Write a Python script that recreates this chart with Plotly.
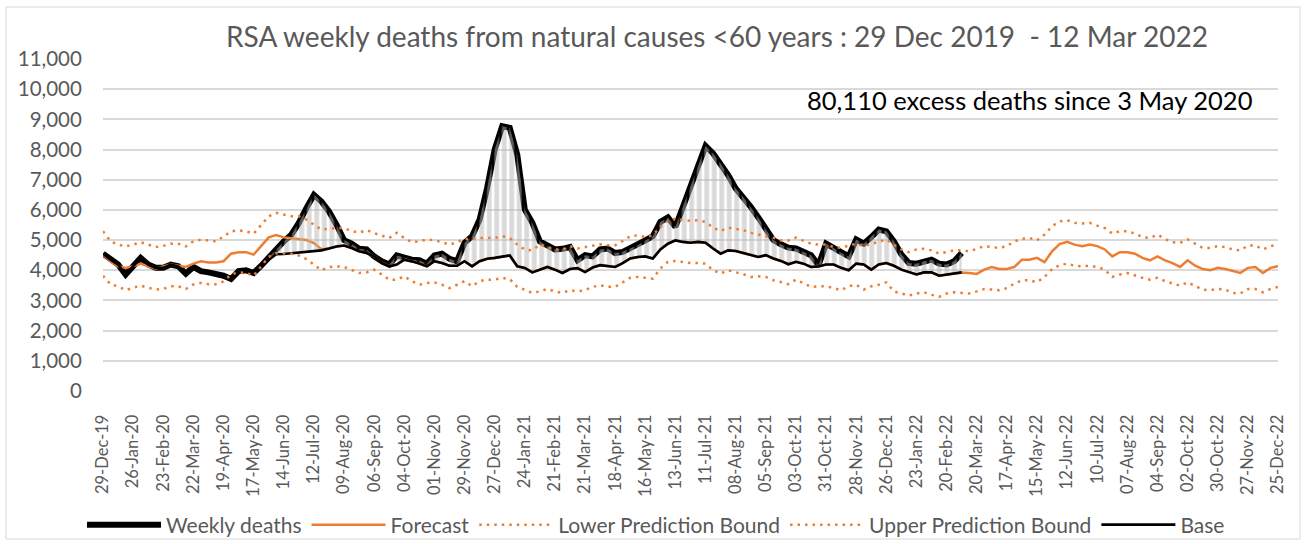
import pandas as pd
import plotly.graph_objects as go

start_date = "2019-12-29"
n_weeks = 157
weeks = pd.date_range(start_date, periods=n_weeks, freq="7D")
tick_dates = weeks[::4]
tick_labels = [d.strftime("%d-%b-%y") for d in tick_dates]

weekly_deaths = [
    4550, 4350, 4190, 3860, 4130, 4410, 4190, 4080, 4080, 4190,
    4130, 3890, 4110, 3970, 3930, 3890, 3820, 3710, 3970, 4000,
    3910, 4150, 4440, 4680, 4960, 5180, 5570, 6060, 6500, 6280,
    5950, 5510, 5000, 4880, 4710, 4690, 4460, 4300, 4190, 4490,
    4410, 4350, 4330, 4220, 4490, 4550, 4380, 4300, 4910, 5130,
    5680, 6730, 8000, 8770, 8720, 7830, 6010, 5570, 4960, 4800,
    4690, 4710, 4770, 4330, 4500, 4460, 4690, 4720, 4570, 4610,
    4720, 4830, 4990, 5130, 5600, 5750, 5440, 6100, 6760, 7480,
    8120, 7870, 7540, 7150, 6710, 6430, 6100, 5750, 5350, 5000,
    4860, 4750, 4720, 4610, 4500, 4170, 4880, 4740, 4570, 4460,
    5020, 4880, 5100, 5350, 5290, 4960, 4520, 4240, 4220, 4300,
    4350, 4220, 4190, 4300, 4570,
]

base = [
    4550, 4350, 4190, 3860, 4130, 4410, 4190, 4080, 4080, 4190,
    4130, 3890, 4110, 3970, 3930, 3890, 3820, 3710, 3970, 4000,
    3910, 4110, 4350, 4530, 4540, 4560, 4580, 4600, 4630, 4660,
    4720, 4790, 4820, 4740, 4630, 4570, 4460, 4240, 4130, 4190,
    4350, 4300, 4220, 4130, 4300, 4240, 4150, 4150, 4300, 4130,
    4300, 4380, 4410, 4460, 4490, 4130, 4080, 3930, 4020, 4110,
    4020, 3910, 4040, 4070, 3940, 4090, 4170, 4130, 4110, 4240,
    4390, 4440, 4460, 4390, 4690, 4880, 4990, 4940, 4910, 4940,
    4910, 4720, 4550, 4660, 4640, 4570, 4500, 4440, 4500, 4390,
    4310, 4200, 4280, 4220, 4110, 4130, 4190, 4190, 4080, 4000,
    4220, 4190, 4020, 4190, 4240, 4150, 4020, 3930, 3860, 3930,
    3930, 3820, 3860, 3910, 3930,
]

forecast = [
    4520, 4300, 4130, 4080, 4130, 4220, 4130, 4050, 4130, 4190,
    4150, 4110, 4220, 4300, 4260, 4260, 4300, 4550, 4600, 4600,
    4520, 4810, 5090, 5170, 5090, 5060, 5040, 5000, 4900, 4700,
    4720, 4790, 4820, 4740, 4630, 4570, 4460, 4240, 4130, 4190,
    4350, 4300, 4220, 4130, 4300, 4240, 4150, 4150, 4300, 4130,
    4300, 4380, 4410, 4460, 4490, 4130, 4080, 3930, 4020, 4110,
    4020, 3910, 4040, 4070, 3940, 4090, 4170, 4130, 4110, 4240,
    4390, 4440, 4460, 4390, 4690, 4880, 4990, 4940, 4910, 4940,
    4910, 4720, 4550, 4660, 4640, 4570, 4500, 4440, 4500, 4390,
    4310, 4200, 4280, 4220, 4110, 4130, 4190, 4190, 4080, 4000,
    4220, 4190, 4020, 4190, 4240, 4150, 4020, 3930, 3860, 3930,
    3930, 3820, 3860, 3910, 3930, 3910, 3880, 4020, 4110, 4040,
    4040, 4110, 4350, 4350, 4410, 4270, 4630, 4870, 4940, 4850,
    4800, 4850, 4800, 4690, 4460, 4600, 4600, 4550, 4410, 4330,
    4460, 4330, 4240, 4110, 4330, 4150, 4040, 4000, 4080, 4040,
    3970, 3910, 4080, 4110, 3910, 4080, 4130,
]

lower_bound = [
    3820, 3530, 3470, 3340, 3420, 3490, 3420, 3360, 3380, 3470,
    3470, 3380, 3530, 3580, 3540, 3540, 3630, 3860, 3930, 3910,
    3820, 4130, 4440, 4570, 4570, 4550, 4490, 4370, 4190, 4000,
    4110, 4130, 4110, 4000, 3910, 3930, 4020, 3860, 3690, 3690,
    3800, 3640, 3520, 3580, 3600, 3520, 3410, 3520, 3640, 3470,
    3640, 3690, 3690, 3750, 3710, 3450, 3360, 3250, 3300, 3380,
    3300, 3250, 3340, 3300, 3340, 3450, 3500, 3450, 3450, 3610,
    3750, 3780, 3760, 3720, 4060, 4280, 4310, 4280, 4240, 4240,
    4220, 4000, 3890, 4000, 3940, 3870, 3780, 3800, 3780, 3670,
    3610, 3540, 3690, 3560, 3450, 3470, 3470, 3410, 3340, 3470,
    3520, 3360, 3470, 3520, 3600, 3300, 3230, 3160, 3230, 3270,
    3190, 3120, 3230, 3270, 3250, 3230, 3300, 3380, 3360, 3340,
    3410, 3560, 3670, 3670, 3600, 3780, 4040, 4170, 4220, 4150,
    4130, 4150, 4110, 4020, 3780, 3860, 3910, 3820, 3750, 3690,
    3750, 3640, 3560, 3490, 3600, 3470, 3360, 3340, 3380, 3360,
    3250, 3230, 3380, 3380, 3270, 3380, 3450,
]

upper_bound = [
    5290, 4960, 4850, 4790, 4850, 4930, 4850, 4770, 4810, 4880,
    4880, 4790, 4960, 5010, 4990, 4960, 5120, 5290, 5320, 5290,
    5210, 5510, 5790, 5900, 5840, 5790, 5790, 5680, 5510, 5350,
    5370, 5400, 5400, 5300, 5250, 5330, 5230, 5150, 5070, 5240,
    5070, 4930, 4960, 5020, 4990, 4930, 4850, 4930, 5040, 5040,
    5070, 5070, 5070, 5130, 5070, 4850, 4690, 4660, 4850, 4770,
    4690, 4690, 4800, 4720, 4770, 4830, 4860, 4830, 4830, 4970,
    5130, 5160, 5100, 5160, 5440, 5640, 5710, 5660, 5640, 5660,
    5600, 5410, 5300, 5410, 5380, 5330, 5240, 5190, 5130, 5080,
    4990, 4990, 5080, 4990, 4880, 4850, 4850, 4770, 4740, 4820,
    4880, 4800, 4880, 4960, 5020, 4850, 4690, 4600, 4690, 4710,
    4660, 4550, 4600, 4660, 4660, 4630, 4710, 4800, 4770, 4740,
    4800, 4960, 5040, 5070, 4990, 5180, 5460, 5620, 5660, 5570,
    5550, 5570, 5480, 5400, 5220, 5290, 5290, 5220, 5100, 5070,
    5180, 5040, 4930, 4910, 5020, 4880, 4740, 4740, 4800, 4770,
    4690, 4660, 4820, 4820, 4690, 4800, 4850,
]

title_text = "RSA weekly deaths from natural causes <60 years : 29 Dec 2019  - 12 Mar 2022"
note_text = "80,110 excess deaths since 3 May 2020"

ORANGE = "#ED7D31"
GREY_TXT = "#595959"
FONT = "Lato"

n_obs = len(weekly_deaths)
x_obs = weeks[:n_obs]

fig = go.Figure()

fig.add_trace(go.Scatter(
    x=x_obs, y=weekly_deaths, name="Weekly deaths", mode="lines",
    line=dict(color="black", width=6), legendrank=1,
))
fig.add_trace(go.Scatter(
    x=weeks, y=forecast, name="Forecast", mode="lines",
    line=dict(color=ORANGE, width=2.5), legendrank=2,
))
fig.add_trace(go.Scatter(
    x=x_obs, y=base, name="Base", mode="lines",
    line=dict(color="black", width=2.6), legendrank=5,
))
fig.add_trace(go.Scatter(
    x=x_obs, y=weekly_deaths, name="Excess", mode="lines",
    line=dict(width=0, color="rgba(0,0,0,0)"), fill="tonexty",
    fillcolor="rgba(0,0,0,0)",
    fillpattern=dict(shape="|", fgcolor="#B5B5B5", bgcolor="rgba(0,0,0,0)",
                     size=7.5, solidity=0.65),
    showlegend=False, hoverinfo="skip",
))
fig.add_trace(go.Scatter(
    x=weeks, y=lower_bound, name="Lower Prediction Bound", mode="lines",
    line=dict(color=ORANGE, width=2.5, dash="2.5px,5px"), legendrank=3,
))
fig.add_trace(go.Scatter(
    x=weeks, y=upper_bound, name="Upper Prediction Bound", mode="lines",
    line=dict(color=ORANGE, width=2.5, dash="2.5px,5px"), legendrank=4,
))

fig.update_layout(
    width=1306, height=544,
    margin=dict(l=103, r=28, t=59, b=153, autoexpand=False),
    paper_bgcolor="white", plot_bgcolor="white",
    font=dict(family=FONT, color=GREY_TXT),
    title=dict(text=title_text, x=717 / 1306, xref="container", xanchor="center",
               y=1 - 37 / 544, yref="container", yanchor="middle",
               font=dict(size=28, color=GREY_TXT, family=FONT)),
    legend=dict(orientation="h", xref="container", yref="container",
                x=656 / 1306, xanchor="center", y=1 - 525 / 544, yanchor="middle",
                font=dict(size=21, color=GREY_TXT, family=FONT),
                itemwidth=74, traceorder="normal", bgcolor="rgba(0,0,0,0)"),
    showlegend=True,
)

fig.update_xaxes(
    range=[weeks[0], weeks[-1]], tickvals=tick_dates, ticktext=tick_labels,
    tickangle=-90, tickfont=dict(size=16.5, color=GREY_TXT, family=FONT),
    showgrid=False, zeroline=False, showline=False, ticks="outside",
    ticklen=16, tickcolor="rgba(0,0,0,0)", automargin=False,
)
fig.update_yaxes(
    range=[0, 11000], dtick=1000, tickformat=",d",
    tickfont=dict(size=20.5, color=GREY_TXT, family=FONT),
    showgrid=True, gridcolor="#D9D9D9", gridwidth=1.5, zeroline=False,
    showline=False, ticks="outside", ticklen=16, tickcolor="rgba(0,0,0,0)",
    automargin=False,
)

fig.add_annotation(
    text=note_text, xref="paper", yref="paper",
    x=(1030 - 103) / 1175, y=(391 - 100) / 332, xanchor="center", yanchor="middle",
    showarrow=False, font=dict(size=25.5, color="black", family=FONT),
)

fig.add_shape(
    type="rect", xref="paper", yref="paper",
    x0=(6 - 103) / 1175, x1=(1300 - 103) / 1175,
    y0=(391 - 539) / 332, y1=(391 - 7) / 332,
    line=dict(color="#D9D9D9", width=1), fillcolor="rgba(0,0,0,0)", layer="below",
)

fig.write_html(
    "out.html",
    config={"displayModeBar": False},
    post_script="document.body.style.margin='0';document.body.style.overflow='hidden';",
)
